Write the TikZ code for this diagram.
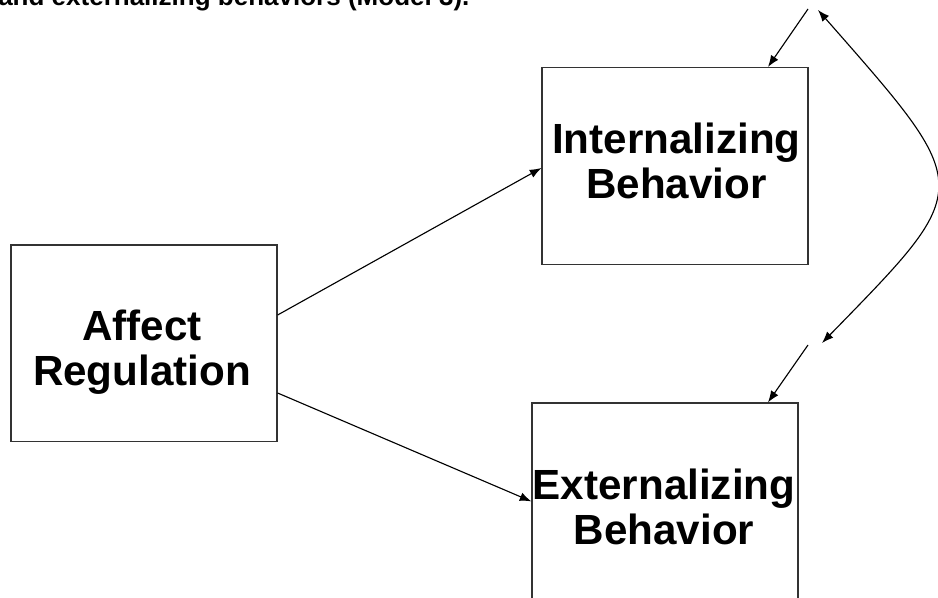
\documentclass[tikz,border=0pt]{standalone}
\usepackage{fontspec}
\setmainfont{Liberation Sans}
\usepackage{tikz}
\usetikzlibrary{arrows.meta, positioning, calc}
\tikzset{
  varbox/.style={
    draw=black!80, line width=0.9pt, rectangle, fill=white,
    minimum width=6.65cm, minimum height=4.92cm, inner sep=0pt
  },
  vartext/.style={
    align=center, inner sep=0pt,
    font=\fontsize{30}{32}\selectfont\bfseries
  },
  patharrow/.style={
    -{Latex[length=2.9mm, width=2.2mm]}, line width=0.8pt
  },
  titletext/.style={
    anchor=base west, inner sep=0pt,
    font=\fontsize{18.5}{20}\selectfont\bfseries
  },
}

\begin{document}
\begin{tikzpicture}
  \useasboundingbox (0,0) rectangle (23.45,14.925);

  % === Title (cut off at the top) ===
  \node[titletext] (title) at (-0.05, 14.79) {and externalizing behaviors (Model 3).};

  % === Variables ===
  \node[varbox] (affect) at (3.6, 6.34) {};
  \node[vartext] (affecttxt) at (3.55, 6.13) {Affect\\Regulation};

  \node[varbox] (intern) at (16.875, 10.775) {};
  \node[vartext] (interntxt) at (16.91, 10.89) {Internalizing\\Behavior};

  \node[varbox] (extern) at (16.625, 2.39) {};
  \node[vartext] (externtxt) at (16.6, 2.26) {Externalizing\\Behavior};

  % === Residual terms (no shape drawn) ===
  \coordinate (eint) at (20.2, 14.7);
  \coordinate (eintr) at (20.45, 14.675);
  \coordinate (eext) at (20.2, 6.3);
  \coordinate (eextr) at (20.55, 6.35);

  % === Paths ===
  \draw[patharrow] ([yshift=7.1mm]affect.east) -- ([yshift=-0.5mm]intern.west);
  \draw[patharrow] ([yshift=-12.4mm]affect.east) -- (extern.west);

  \draw[patharrow] (eint) -- ([xshift=23.25mm]intern.north);
  \draw[patharrow] (eext) -- ([xshift=25.75mm]extern.north);

  % === Residual correlation ===
  \draw[patharrow, {Latex[length=2.9mm, width=2.2mm]}-{Latex[length=2.9mm, width=2.2mm]}]
    (eintr) .. controls +(3.95,-4.5) and +(3.85,3.95) .. (eextr);

\end{tikzpicture}
\end{document}
